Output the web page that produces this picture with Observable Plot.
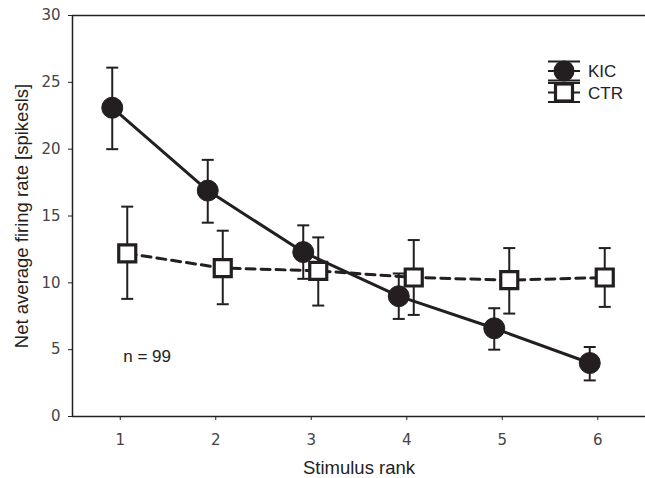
<!DOCTYPE html>
<html>
<head>
<meta charset="utf-8">
<script src="https://cdn.jsdelivr.net/npm/d3@7"></script>
<script src="https://cdn.jsdelivr.net/npm/@observablehq/plot@0.6"></script>
<style>
  body { margin: 0; background: #fff; }
  #wrap { position: relative; width: 645px; height: 478px; }
  #legend { position: absolute; left: 0; top: 0; }
</style>
</head>
<body>
<div id="wrap"></div>
<script>
const ranks = [1, 2, 3, 4, 5, 6];
const kicMean = [23.1, 16.9, 12.3, 9.0, 6.6, 4.0];
const kicHi   = [26.1, 19.2, 14.3, 10.7, 8.1, 5.2];
const kicLo   = [20.0, 14.5, 10.3, 7.3, 5.0, 2.7];
const ctrMean = [12.2, 11.1, 10.9, 10.4, 10.2, 10.4];
const ctrHi   = [15.7, 13.9, 13.4, 13.2, 12.6, 12.6];
const ctrLo   = [8.8, 8.4, 8.3, 7.6, 7.7, 8.2];
const yTicks = [0, 5, 10, 15, 20, 25, 30];
const seriesNames = ["KIC", "CTR"];
const xLabel = "Stimulus rank";
const yLabel = "Net average firing rate [spikesls]";
const annotation = [{x: 1, y: 4.5, text: "n = 99"}];

const ink = "#231f20";
const sans = "'Liberation Sans', Arial, sans-serif";
const tickFont = "'DejaVu Sans', sans-serif";
const kic = ranks.map((r, i) => ({x: r, y: kicMean[i], lo: kicLo[i], hi: kicHi[i]}));
const ctr = ranks.map((r, i) => ({x: r, y: ctrMean[i], lo: ctrLo[i], hi: ctrHi[i]}));

const cap = {
  draw(context, size) {
    const r = Math.sqrt(size / Math.PI);
    context.moveTo(-r, 0);
    context.lineTo(r, 0);
  }
};

function errMarks(data, dx) {
  return [
    Plot.ruleX(data, {x: "x", y1: "lo", y2: "hi", dx, stroke: ink, strokeWidth: 2}),
    Plot.dot(data, {x: "x", y: "hi", dx, symbol: cap, r: 6, stroke: ink, strokeWidth: 2, fill: "none"}),
    Plot.dot(data, {x: "x", y: "lo", dx, symbol: cap, r: 6, stroke: ink, strokeWidth: 2, fill: "none"})
  ];
}

const chart = Plot.plot({
  width: 645,
  height: 478,
  marginLeft: 72,
  marginRight: 0,
  marginTop: 15,
  marginBottom: 62,
  style: {fontFamily: tickFont, fontSize: "15px", color: "#333", background: "#fff"},
  x: {domain: [0.5, 6.5]},
  y: {domain: [0, 30]},
  marks: [
    Plot.axisX({ticks: ranks, tickFormat: d => String(d), tickSize: 4, tickPadding: 14,
      label: null, stroke: ink, fontSize: 15}),
    Plot.axisY({ticks: yTicks, tickSize: 4, tickPadding: 8, label: null, stroke: ink, fontSize: 15}),
    Plot.text([xLabel], {text: d => d, frameAnchor: "bottom", dy: 52, lineAnchor: "middle",
      textAnchor: "middle", fontFamily: sans, fontSize: 18.5, fill: "#222"}),
    Plot.text([yLabel], {text: d => d, frameAnchor: "left", dx: -50, rotate: -90,
      textAnchor: "middle", lineAnchor: "middle", fontFamily: sans, fontSize: 18.5, fill: "#222"}),
    Plot.ruleY([0, 30], {stroke: ink, strokeWidth: 1.5}),
    Plot.ruleX([0.5], {stroke: ink, strokeWidth: 1.5}),
    Plot.line(kic, {x: "x", y: "y", dx: -8, stroke: ink, strokeWidth: 3}),
    Plot.line(ctr, {x: "x", y: "y", dx: 7, stroke: ink, strokeWidth: 3, strokeDasharray: "9,6"}),
    ...errMarks(kic, -8),
    ...errMarks(ctr, 7),
    Plot.dot(kic, {x: "x", y: "y", dx: -8, r: 10.5, fill: ink, stroke: ink, strokeWidth: 1}),
    Plot.dot(ctr, {x: "x", y: "y", dx: 7, symbol: "square", r: 9.6, fill: "#fff", stroke: ink, strokeWidth: 3.2}),
    Plot.text(annotation, {x: "x", y: "y", text: "text", textAnchor: "start", dx: 3,
      fontFamily: sans, fontSize: 17, fill: "#222"})
  ]
});

d3.select(chart).selectAll("g[aria-label='x-axis tick label'], g[aria-label='y-axis tick label']")
  .attr("font-family", tickFont).attr("fill", "#444");

document.getElementById("wrap").appendChild(chart);

// legend overlay
const leg = d3.select("#wrap").append("svg")
  .attr("id", "legend").attr("width", 645).attr("height", 478);
const rows = [{name: seriesNames[0], cy: 71}, {name: seriesNames[1], cy: 92.5}];
rows.forEach((row, i) => {
  const g = leg.append("g");
  [-9.5, 0, 9.5].forEach(o => {
    g.append("line").attr("x1", 548).attr("x2", 580)
      .attr("y1", row.cy + o).attr("y2", row.cy + o)
      .attr("stroke", ink).attr("stroke-width", 2);
  });
  if (i === 0) {
    g.append("circle").attr("cx", 564).attr("cy", row.cy).attr("r", 10.5).attr("fill", ink);
  } else {
    g.append("rect").attr("x", 564 - 8.5).attr("y", row.cy - 8.5).attr("width", 17).attr("height", 17)
      .attr("fill", "#fff").attr("stroke", ink).attr("stroke-width", 3.2);
  }
  g.append("text").attr("x", 588).attr("y", row.cy + 6)
    .attr("font-family", sans).attr("font-size", 17)
    .attr("fill", "#222").text(row.name);
});
</script>
</body>
</html>
